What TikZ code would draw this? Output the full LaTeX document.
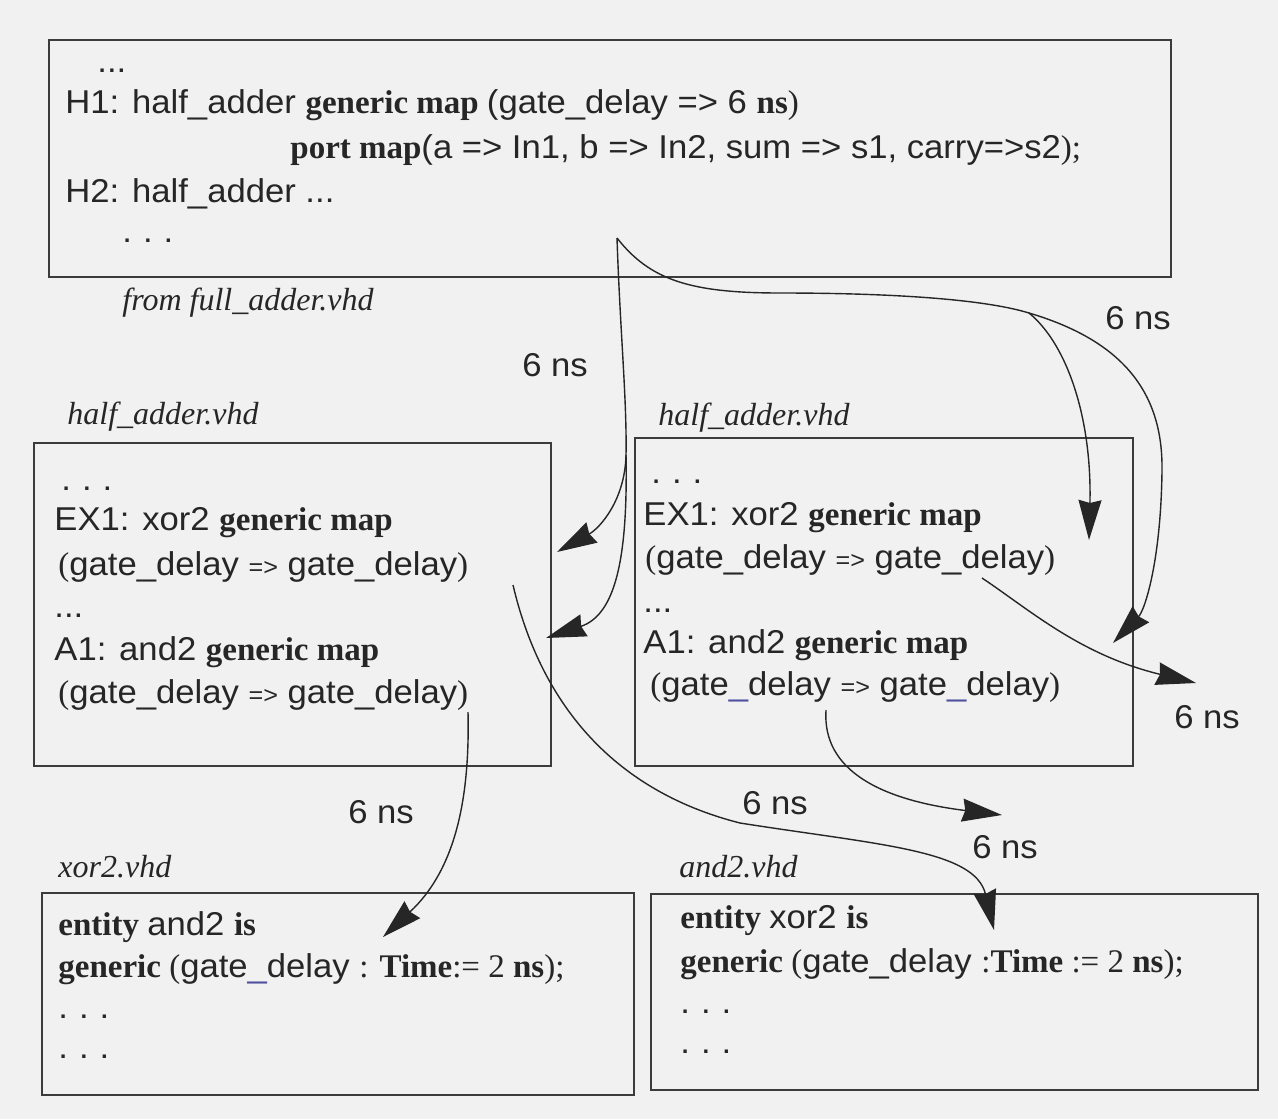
\documentclass[tikz,border=0pt]{standalone}
\usepackage{fontspec}
\setmainfont{Liberation Serif}
\newfontfamily\sansf[FakeStretch=1.05]{Liberation Sans}
\newfontfamily\serff{Liberation Serif}
\usetikzlibrary{arrows.meta}
\definecolor{bg}{RGB}{241,241,241}
\definecolor{ink}{RGB}{38,38,38}
\definecolor{lin}{RGB}{60,60,60}
\definecolor{uline}{RGB}{80,80,160}
\newcommand{\sa}[1]{{\sansf\fontsize{16.5}{18}\selectfont #1}}
\newcommand{\kw}[1]{{\serff\bfseries\fontsize{16.5}{18}\selectfont #1}}
\newcommand{\sr}[1]{{\serff\fontsize{16.5}{18}\selectfont #1}}
\newcommand{\fn}[1]{{\serff\itshape\fontsize{16}{18}\selectfont #1}}
\newcommand{\smarr}{{\sansf\fontsize{12}{12}\selectfont =>}}
\newcommand{\gdmap}{\sr{(}\sa{gate\_delay }\smarr\sa{ gate\_delay}\sr{)}}
\newcommand{\gdmapb}{\sr{(}\sa{gate{\color{uline}\_}delay }\smarr\sa{ gate{\color{uline}\_}delay}\sr{)}}
\begin{document}
\begin{tikzpicture}[x=0.5pt,y=-0.5pt,
  txt/.style={anchor=base west,inner sep=0pt,text=ink},
  lbl/.style={anchor=center,inner sep=0pt,text=ink,font=\sansf\fontsize{16.5}{18}\selectfont},
  boxline/.style={draw=lin,line width=0.8pt},
  conn/.style={draw=ink,line width=0.7pt,-{Stealth[length=20pt,width=11.5pt,inset=1.5pt]}},
  trunk/.style={draw=ink,line width=0.7pt}]
\fill[bg] (0,0) rectangle (1278,1119);
\useasboundingbox (0,0) rectangle (1278,1119);
% ---------- boxes ----------
\draw[boxline] (49,40) rectangle (1171,277);
\draw[boxline] (34,443) rectangle (551,766);
\draw[boxline] (635,438) rectangle (1133,766);
\draw[boxline] (42,893) rectangle (634,1095);
\draw[boxline] (651,894) rectangle (1258,1090);
% ---------- top box ----------
\node[txt] (t0) at (97,72) {\sa{...}};
\node[txt] (t1) at (65,113) {\sa{H1: half\_adder }\kw{generic map }\sa{(gate\_delay => 6 }\kw{ns}\sr{)}};
\node[txt] (t2) at (290,158) {\kw{port map}\sa{(a => In1, b => In2, sum => s1, carry=>s2}\sr{);}};
\node[txt] (t3) at (65,202) {\sa{H2: half\_adder ...}};
\node[txt] (t4) at (122,242) {\sa{.\,\,.\,\,.}};
\node[txt] (f1) at (122,310) {\fn{from full\_adder.vhd}};
% ---------- middle left ----------
\node[txt] (f2) at (67,424) {\fn{half\_adder.vhd}};
\node[txt] (l0) at (61,490) {\sa{.\,\,.\,\,.}};
\node[txt] (l1) at (54,530) {\sa{EX1: xor2 }\kw{generic map}};
\node[txt] (l2) at (58,575) {\gdmap};
\node[txt] (l3) at (54,617) {\sa{...}};
\node[txt] (l4) at (54,660) {\sa{A1: and2 }\kw{generic map}};
\node[txt] (l5) at (58,703) {\gdmap};
% ---------- middle right ----------
\node[txt] (f3) at (658,425) {\fn{half\_adder.vhd}};
\node[txt] (r0) at (651,483) {\sa{.\,\,.\,\,.}};
\node[txt] (r1) at (643,525) {\sa{EX1: xor2 }\kw{generic map}};
\node[txt] (r2) at (645,568) {\gdmap};
\node[txt] (r3) at (643,612) {\sa{...}};
\node[txt] (r4) at (643,653) {\sa{A1: and2 }\kw{generic map}};
\node[txt] (r5) at (650,695) {\gdmapb};
% ---------- bottom left ----------
\node[txt] (f4) at (58,877) {\fn{xor2.vhd}};
\node[txt] (b1) at (58,935) {\kw{entity }\sa{and2 }\kw{is}};
\node[txt] (b2) at (58,977) {\kw{generic }\sr{(}\sa{gate{\color{uline}\_}delay }\sr{: }\kw{Time}\sr{:= 2 }\kw{ns}\sr{);}};
\node[txt] (b3) at (58,1018) {\sa{.\,\,.\,\,.}};
\node[txt] (b4) at (58,1058) {\sa{.\,\,.\,\,.}};
% ---------- bottom right ----------
\node[txt] (f5) at (679,877) {\fn{and2.vhd}};
\node[txt] (c1) at (680,928) {\kw{entity }\sa{xor2 }\kw{is}};
\node[txt] (c2) at (680,972) {\kw{generic }\sr{(}\sa{gate\_delay }\sr{:}\kw{Time }\sr{:= 2 }\kw{ns}\sr{);}};
\node[txt] (c3) at (680,1013) {\sa{.\,\,.\,\,.}};
\node[txt] (c4) at (680,1053) {\sa{.\,\,.\,\,.}};
% ---------- delay labels ----------
\node[lbl] (d1) at (555,365) {6 ns};
\node[lbl] (d2) at (1138,318) {6 ns};
\node[lbl] (d3) at (1207,717) {6 ns};
\node[lbl] (d4) at (381,812) {6 ns};
\node[lbl] (d5) at (775,803) {6 ns};
\node[lbl] (d6) at (1005,847) {6 ns};
% ---------- connector points ----------
\coordinate (src) at (617,238);
\coordinate (sp1) at (626,455);
\coordinate (sp2) at (1029,313);
\coordinate (tA) at (557,552);
\coordinate (tB) at (546,638);
\coordinate (tC) at (1089,540);
\coordinate (tD) at (1113,643);
\coordinate (sE) at (982,578);
\coordinate (tE) at (1196,683);
\coordinate (sF) at (826,710);
\coordinate (tF) at (1002,815);
\coordinate (sG) at (513,585);
\coordinate (mG) at (740,823);
\coordinate (tG) at (994,930);
\coordinate (sH) at (468,712);
\coordinate (tH) at (383,937);
% ---------- connectors ----------
\draw[trunk] (src) .. controls (620,330) and (627,400) .. (sp1);
\draw[conn] (sp1) .. controls (625,500) and (600,528) .. (tA);
\draw[conn] (sp1) .. controls (628,560) and (615,615) .. (tB);
\draw[trunk] (src) .. controls (650,280) and (690,293) .. (780,293) .. controls (880,293) and (980,298) .. (sp2);
\draw[conn] (sp2) .. controls (1068,345) and (1092,420) .. (tC);
\draw[conn] (sp2) .. controls (1120,340) and (1163,390) .. (1162,470) .. controls (1161,560) and (1145,610) .. (tD);
\draw[conn] (sE) .. controls (1030,610) and (1080,655) .. (tE);
\draw[conn] (sF) .. controls (822,770) and (880,800) .. (tF);
\draw[conn] (sG) .. controls (540,700) and (610,790) .. (mG) .. controls (880,845) and (975,850) .. (tG);
\draw[conn] (sH) .. controls (470,800) and (455,870) .. (tH);
\end{tikzpicture}
\end{document}
